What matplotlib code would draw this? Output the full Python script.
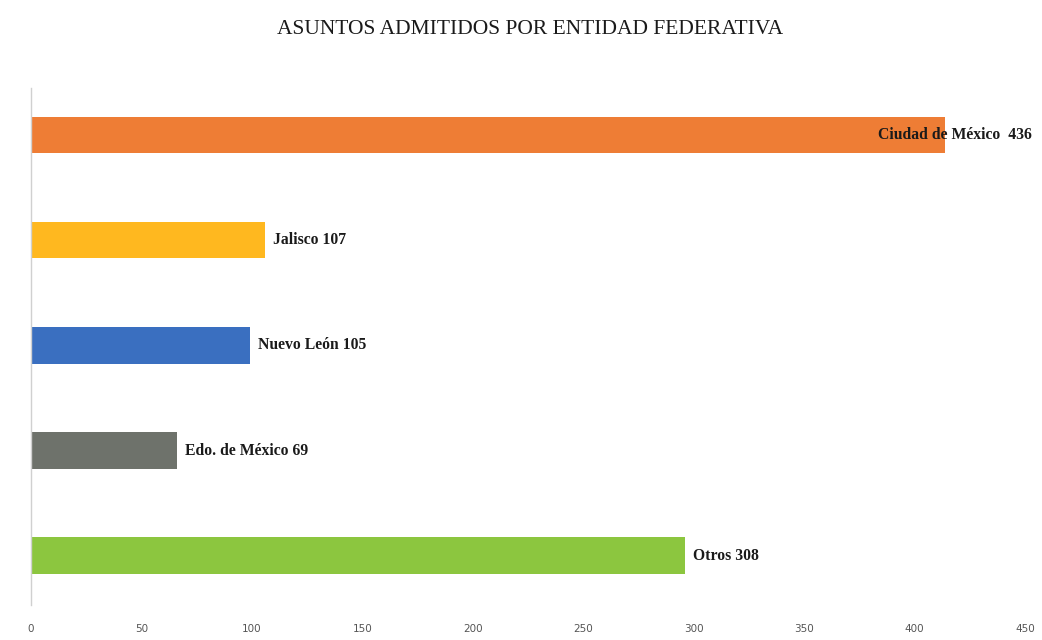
import matplotlib
matplotlib.use("Agg")
import matplotlib.pyplot as plt

# datos
entidades = ["Ciudad de México ", "Jalisco", "Nuevo León", "Edo. de México", "Otros"]
asuntos = [436, 107, 105, 69, 308]
# largo de barra tal como aparece dibujado en la imagen
largo_barra = [414, 106, 99, 66, 296]
colores = ["#EE7D35", "#FFB81F", "#3A6FC0", "#6E726B", "#8CC63F"]
ticks_x = [0, 50, 100, 150, 200, 250, 300, 350, 400, 450]

fig = plt.figure(figsize=(10.42, 6.4), dpi=100)
ax = fig.add_axes([31 / 1042, 35 / 640, 994 / 1042, 517 / 640])

pos = list(range(len(entidades)))[::-1]
barras = ax.barh(pos, largo_barra, height=0.345, color=colores)

for i, b in enumerate(barras):
    texto = "%s %d" % (entidades[i], asuntos[i])
    dx = 8
    if i == 0:
        dx = -67  # la etiqueta queda encima de la barra
    ax.annotate(texto, (b.get_width(), b.get_y() + b.get_height() / 2),
                xytext=(dx, 0), textcoords="offset pixels",
                va="center", ha="left", fontsize=11.3, fontweight="bold",
                family="Liberation Serif", color="#1a1a1a")

ax.set_xlim(0, 450)
ax.set_ylim(-0.47, 4.45)
ax.set_xticks(ticks_x)
ax.set_xticklabels([str(t) for t in ticks_x], fontsize=7.5, color="#555555")
ax.tick_params(axis="x", length=0, pad=14)
ax.set_yticks([])
for s in ["top", "right", "bottom"]:
    ax.spines[s].set_visible(False)
ax.spines["left"].set_color("#d0d0d0")
ax.spines["left"].set_linewidth(1.0)

fig.text(530 / 1042, 1 - 30 / 640, "ASUNTOS ADMITIDOS POR ENTIDAD FEDERATIVA",
         ha="center", va="center", fontsize=15.5, family="Liberation Serif",
         color="#1a1a1a")

fig.savefig("out.png", dpi=100, facecolor="white")
